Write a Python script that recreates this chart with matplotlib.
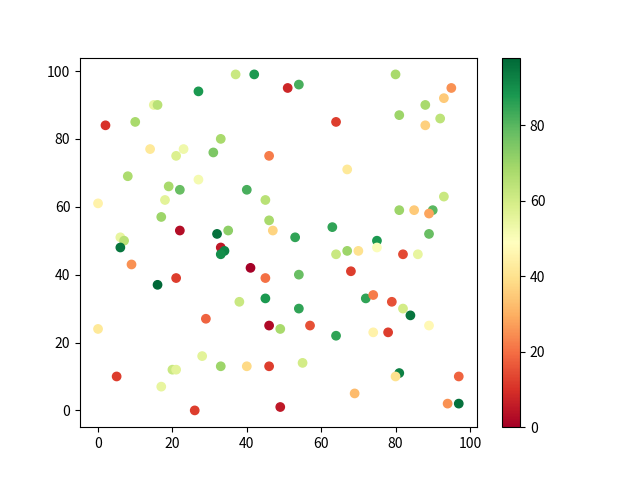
import matplotlib
matplotlib.use("Agg")
import matplotlib.pyplot as plt

plt.rcParams['font.family'] = ['Noto Sans CJK SC', 'DejaVu Sans']

# points: x, y and colour value
x = [37, 42, 27, 15, 16, 2, 10, 33, 14, 23, 21, 31, 46, 8, 27, 19, 22, 40, 45, 0,
     18, 17, 46, 22, 32, 35, 47, 6, 7,
     80, 51, 54, 95, 93, 88, 81, 92, 88, 64, 67, 93, 81, 85, 90, 89, 89, 63, 53, 75,
     6, 33, 34, 33, 9, 41, 45, 21, 16, 38, 45, 29, 0, 46, 49, 28, 33, 40, 46, 20, 21,
     5, 17, 26,
     64, 67, 70, 75, 82, 86, 68, 54, 72, 74, 79, 82, 84, 54, 89, 57, 64, 74, 78, 55,
     81, 80, 97, 69, 49, 94, 97]
y = [99, 99, 94, 90, 90, 84, 85, 80, 77, 77, 75, 76, 75, 69, 68, 66, 65, 65, 62, 61,
     62, 57, 56, 53, 52, 53, 53, 51, 50,
     99, 95, 96, 95, 92, 90, 87, 86, 84, 85, 71, 63, 59, 59, 59, 58, 52, 54, 51, 50,
     48, 48, 47, 46, 43, 42, 39, 39, 37, 32, 33, 27, 24, 25, 24, 16, 13, 13, 13, 12, 12,
     10, 7, 0,
     46, 47, 47, 48, 46, 46, 41, 40, 33, 34, 32, 30, 28, 30, 25, 25, 22, 23, 23, 14,
     11, 10, 10, 5, 1, 2, 2]
c = [62, 88, 88, 55, 65, 10, 68, 68, 42, 53, 58, 75, 22, 67, 52, 68, 78, 82, 65, 45,
     56, 70, 68, 3, 96, 72, 37, 55, 65,
     68, 8, 82, 25, 35, 68, 70, 64, 36, 12, 42, 62, 70, 35, 80, 28, 78, 85, 85, 88,
     95, 5, 92, 90, 25, 0, 20, 12, 98, 62, 88, 18, 42, 2, 68, 56, 70, 38, 12, 62, 56,
     12, 55, 12,
     62, 70, 40, 50, 14, 55, 12, 78, 85, 22, 15, 60, 95, 85, 47, 15, 85, 45, 12, 60,
     93, 40, 18, 32, 5, 25, 96]

plt.figure(figsize=(6.4, 4.8), dpi=100)
plt.scatter(x, y, c=c, cmap='RdYlGn')
plt.colorbar()
plt.savefig('out.png')
